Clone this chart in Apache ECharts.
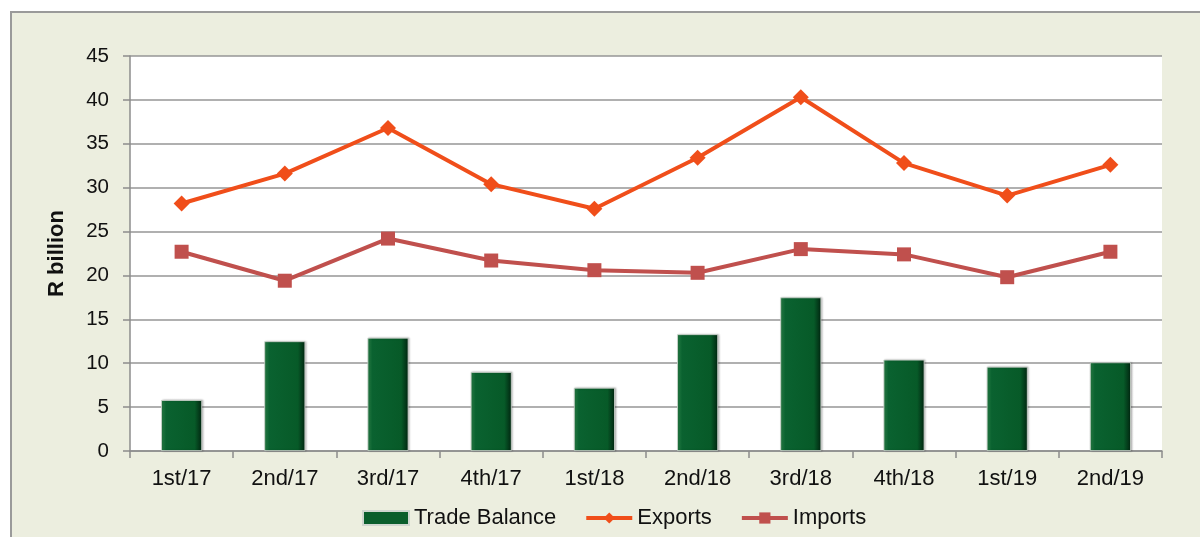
<!DOCTYPE html>
<html>
<head>
<meta charset="utf-8">
<script src="https://cdn.jsdelivr.net/npm/echarts@6/dist/echarts.min.js"></script>
<style>
  html, body { margin: 0; padding: 0; background: #ffffff; }
  #chart { width: 1200px; height: 537px; }
</style>
</head>
<body>
<div id="chart"></div>
<script>
// Quarterly trade figures, R billion
const quarters = ['1st/17', '2nd/17', '3rd/17', '4th/17', '1st/18', '2nd/18', '3rd/18', '4th/18', '1st/19', '2nd/19'];
const tradeBalance = [5.8, 12.5, 12.9, 9.0, 7.2, 13.3, 17.5, 10.4, 9.6, 10.1];
const exportsR = [28.2, 31.6, 36.8, 30.4, 27.6, 33.4, 40.3, 32.8, 29.1, 32.6];
const importsR = [22.7, 19.4, 24.2, 21.7, 20.6, 20.3, 23.0, 22.4, 19.8, 22.7];
const yTicks = { min: 0, max: 45, interval: 5 };

const FONT = '"Liberation Sans", Arial, sans-serif';
const EXPORT_COLOR = '#F04E1A';
const IMPORT_COLOR = '#C0504D';

const chart = echarts.init(document.getElementById('chart'), null, { renderer: 'canvas' });

chart.setOption({
  animation: false,
  backgroundColor: '#ffffff',
  textStyle: { fontFamily: FONT, color: '#111' },
  graphic: [
    {
      // outer chart frame
      type: 'rect',
      z: -10,
      silent: true,
      shape: { x: 11, y: 12, width: 1300, height: 600 },
      style: { fill: '#ECEEDF', stroke: '#9a9a9a', lineWidth: 2 }
    }
  ],
  grid: {
    left: 130, top: 56, right: 38, bottom: 86,
    show: true, backgroundColor: '#ffffff', borderWidth: 0
  },
  legend: {
    top: 502,
    left: 357,
    itemWidth: 46,
    itemHeight: 14,
    itemGap: 28,
    textStyle: { fontFamily: FONT, fontSize: 22, color: '#111' },
    data: [
      { name: 'Trade Balance', icon: 'rect', itemStyle: { color: '#0a5e2c' } },
      { name: 'Exports', lineStyle: { width: 4, color: EXPORT_COLOR } },
      { name: 'Imports', lineStyle: { width: 4, color: IMPORT_COLOR } }
    ]
  },
  xAxis: {
    type: 'category',
    data: quarters,
    boundaryGap: true,
    axisLine: { lineStyle: { color: '#8c8c8c', width: 1.5 } },
    axisTick: { show: true, length: 7, alignWithLabel: false, lineStyle: { color: '#8c8c8c', width: 1.5 } },
    axisLabel: { fontFamily: FONT, fontSize: 22, color: '#111', margin: 17 }
  },
  yAxis: {
    type: 'value',
    min: yTicks.min, max: yTicks.max, interval: yTicks.interval,
    name: 'R billion',
    nameLocation: 'middle',
    nameGap: 62,
    nameRotate: 90,
    nameTextStyle: { fontFamily: FONT, fontSize: 22, fontWeight: 'bold', color: '#111' },
    axisLine: { show: true, lineStyle: { color: '#8c8c8c', width: 1.5 } },
    axisTick: { show: true, length: 7, lineStyle: { color: '#8c8c8c', width: 1.5 } },
    axisLabel: { fontFamily: FONT, fontSize: 20.5, color: '#111', margin: 21 },
    splitLine: { lineStyle: { color: '#969696', width: 1.5 } }
  },
  series: [
    {
      name: 'Trade Balance',
      type: 'bar',
      data: tradeBalance,
      barWidth: 41,
      itemStyle: {
        color: new echarts.graphic.LinearGradient(0, 0, 1, 0, [
          { offset: 0, color: '#2a8249' },
          { offset: 0.12, color: '#0a6230' },
          { offset: 0.82, color: '#075a28' },
          { offset: 1, color: '#012410' }
        ]),
        borderColor: '#cfd6cf',
        borderWidth: 0.8,
        shadowColor: 'rgba(0,0,0,0.25)',
        shadowBlur: 2,
        shadowOffsetX: 1
      },
      z: 2
    },
    {
      name: 'Exports',
      type: 'line',
      data: exportsR,
      symbol: 'diamond',
      symbolSize: 16,
      lineStyle: { color: EXPORT_COLOR, width: 4 },
      itemStyle: { color: EXPORT_COLOR },
      z: 4
    },
    {
      name: 'Imports',
      type: 'line',
      data: importsR,
      symbol: 'rect',
      symbolSize: 14,
      lineStyle: { color: IMPORT_COLOR, width: 4 },
      itemStyle: { color: IMPORT_COLOR },
      z: 3
    }
  ]
});
</script>
</body>
</html>
